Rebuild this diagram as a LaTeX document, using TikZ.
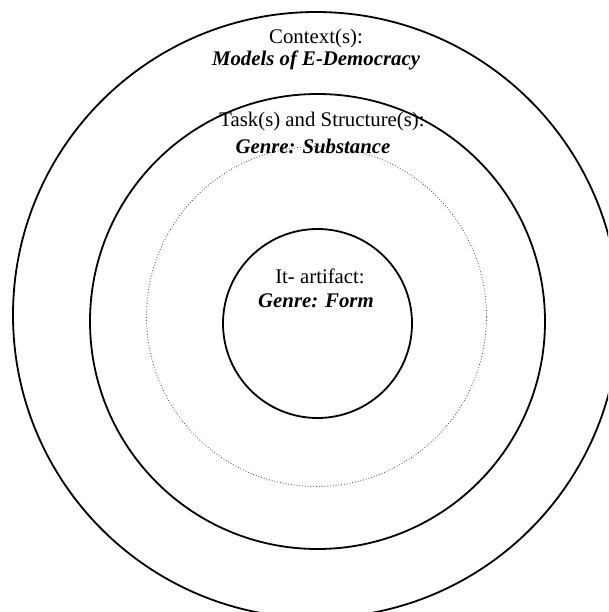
\documentclass[tikz,border=0pt]{standalone}
\usepackage{fontspec}
\setmainfont{Liberation Serif}
\begin{document}
\begin{tikzpicture}[x=1pt,y=-1pt,
  ring/.style={circle, draw=black, line width=1.8pt, inner sep=0pt, outer sep=0pt},
  dotring/.style={circle, draw=black!75, line width=0.8pt, dotted, inner sep=0pt, outer sep=0pt},
  lbl/.style={anchor=base, inner sep=0pt, font=\fontsize{20.8}{24}\selectfont},
  blbl/.style={lbl, font=\fontsize{20.8}{24}\selectfont\bfseries\itshape}]
\useasboundingbox (0,0) rectangle (608,612);
\clip (0,0) rectangle (608,612);
\fill[white] (0,0) rectangle (608,612);
\node[ring, minimum size=606pt] (outer) at (316,315) {};
\node[ring, minimum size=455pt] (middle) at (317.5,321.5) {};
\node[dotring, minimum size=340pt] (dotc) at (316.5,316.5) {};
\node[ring, minimum size=189pt] (inner) at (317.5,323.5) {};
\node[lbl] (ctx) at (316,44) {Context(s):};
\node[blbl] (models) at (316,66) {Models of E-Democracy};
\node[lbl] (task) at (322,127) {Task(s) and Structure(s):};
\node[blbl] (subst) at (313,154) {Genre: Substance};
\node[lbl] (art) at (320,283) {It- artifact:};
\node[blbl] (form) at (316,307) {Genre: Form};
\end{tikzpicture}
\end{document}
